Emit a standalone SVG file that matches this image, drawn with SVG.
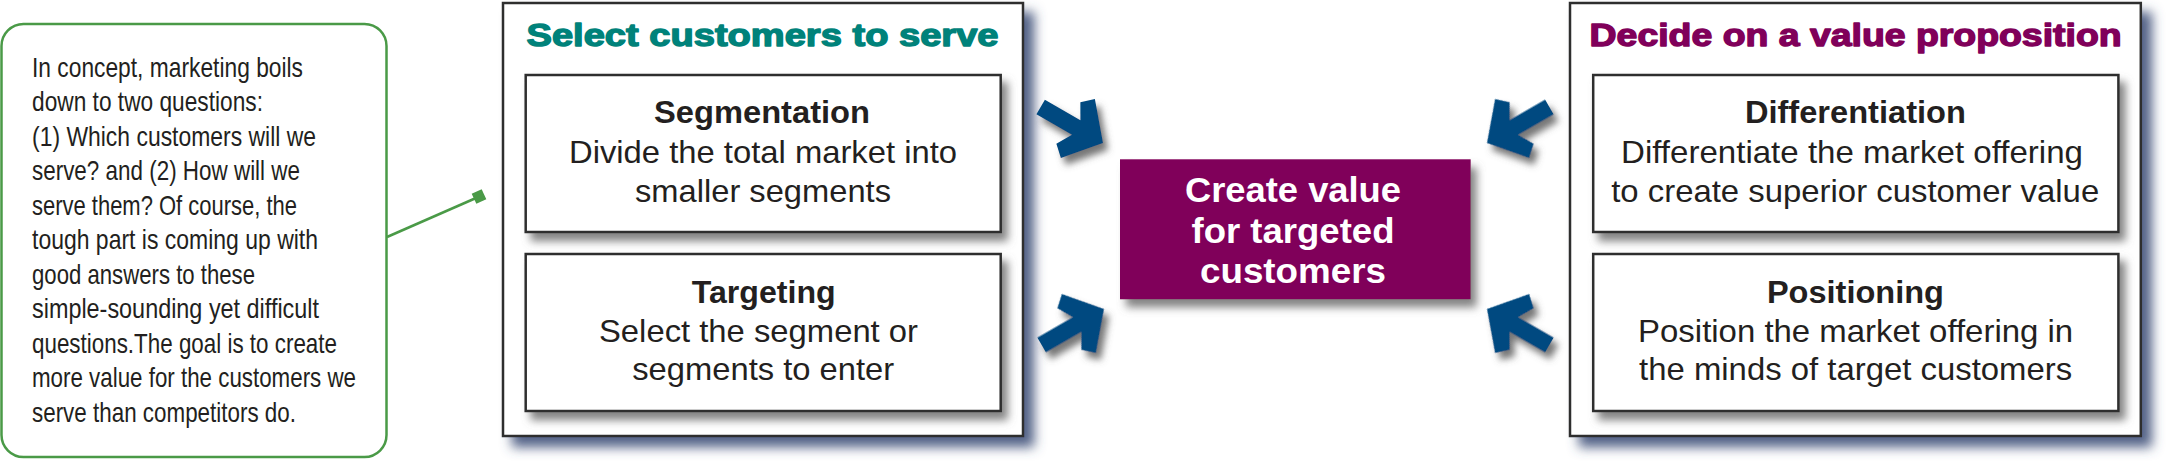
<svg xmlns="http://www.w3.org/2000/svg" xmlns:xlink="http://www.w3.org/1999/xlink" width="2167" height="461" viewBox="0 0 2167 461">
<style>
text{font-family:"Liberation Sans",Arial,sans-serif;}
.note{font-size:28px;fill:#231f20;}
.ttl{font-size:32px;font-weight:bold;text-anchor:middle;stroke-width:1.4;stroke-linejoin:round;}
.hd{font-size:31px;font-weight:bold;fill:#231f20;text-anchor:middle;}
.bd{font-size:32px;fill:#231f20;text-anchor:middle;}
.ctr{font-size:35px;font-weight:bold;fill:#ffffff;text-anchor:middle;}
.panel{fill:#ffffff;stroke:#2e2e2e;stroke-width:2.5;}
.box{fill:#ffffff;stroke:#2e2e2e;stroke-width:2.5;}
.arrow{fill:#004a80;}
</style>
<defs>
<filter id="panelShadow" x="-10%" y="-10%" width="125%" height="125%">
<feGaussianBlur in="SourceAlpha" stdDeviation="6"/>
<feOffset dx="10" dy="10" result="b"/>
<feFlood flood-color="#3f5079" flood-opacity="0.9"/>
<feComposite in2="b" operator="in"/>
<feMerge><feMergeNode/><feMergeNode in="SourceGraphic"/></feMerge>
</filter>
<filter id="boxShadow" x="-10%" y="-10%" width="125%" height="135%">
<feGaussianBlur in="SourceAlpha" stdDeviation="4.5"/>
<feOffset dx="6" dy="8" result="b"/>
<feFlood flood-color="#6e6e6e" flood-opacity="0.85"/>
<feComposite in2="b" operator="in"/>
<feMerge><feMergeNode/><feMergeNode in="SourceGraphic"/></feMerge>
</filter>
<filter id="arrowShadow" x="-40%" y="-40%" width="180%" height="180%">
<feGaussianBlur in="SourceAlpha" stdDeviation="3.5"/>
<feOffset dx="5" dy="7" result="b"/>
<feFlood flood-color="#555555" flood-opacity="0.8"/>
<feComposite in2="b" operator="in"/>
<feMerge><feMergeNode/><feMergeNode in="SourceGraphic"/></feMerge>
</filter>
<path id="arr" d="M0,0 L-29,-34 L-40,-24 L-31,-8.5 L-72,-8.5 L-72,8.5 L-31,8.5 L-40,24 L-29,34 Z"/>
</defs>

<g id="callout">
<rect x="1.5" y="24" width="385" height="433" rx="22" ry="22" fill="#ffffff" stroke="#4a9a47" stroke-width="2.5"/>
<text class="note" x="32" y="76.7" textLength="271" lengthAdjust="spacingAndGlyphs">In concept, marketing boils</text>
<text class="note" x="32" y="111.2" textLength="231" lengthAdjust="spacingAndGlyphs">down to two questions:</text>
<text class="note" x="32" y="145.7" textLength="284" lengthAdjust="spacingAndGlyphs">(1) Which customers will we</text>
<text class="note" x="32" y="180.2" textLength="268" lengthAdjust="spacingAndGlyphs">serve? and (2) How will we</text>
<text class="note" x="32" y="214.7" textLength="265" lengthAdjust="spacingAndGlyphs">serve them? Of course, the</text>
<text class="note" x="32" y="249.2" textLength="286" lengthAdjust="spacingAndGlyphs">tough part is coming up with</text>
<text class="note" x="32" y="283.7" textLength="223" lengthAdjust="spacingAndGlyphs">good answers to these</text>
<text class="note" x="32" y="318.2" textLength="287" lengthAdjust="spacingAndGlyphs">simple-sounding yet difficult</text>
<text class="note" x="32" y="352.7" textLength="305" lengthAdjust="spacingAndGlyphs">questions.The goal is to create</text>
<text class="note" x="32" y="387.2" textLength="324" lengthAdjust="spacingAndGlyphs">more value for the customers we</text>
<text class="note" x="32" y="421.7" textLength="264" lengthAdjust="spacingAndGlyphs">serve than competitors do.</text>
</g>

<g id="panel-select">
<rect class="panel" x="503" y="3" width="520" height="433" filter="url(#panelShadow)"/>
<text class="ttl" x="762.5" y="46" fill="#00827a" stroke="#00827a" textLength="472" lengthAdjust="spacingAndGlyphs">Select customers to serve</text>
</g>
<g id="node-segmentation">
<rect class="box" x="525.7" y="75" width="475" height="157" filter="url(#boxShadow)"/>
<text class="hd" x="762" y="123.3" textLength="216" lengthAdjust="spacingAndGlyphs">Segmentation</text>
<text class="bd" x="763" y="162.7" textLength="388" lengthAdjust="spacingAndGlyphs">Divide the total market into</text>
<text class="bd" x="763" y="201.7" textLength="256" lengthAdjust="spacingAndGlyphs">smaller segments</text>
</g>
<g id="node-targeting">
<rect class="box" x="525.7" y="254" width="475" height="157" filter="url(#boxShadow)"/>
<text class="hd" x="763.7" y="302.7" textLength="144" lengthAdjust="spacingAndGlyphs">Targeting</text>
<text class="bd" x="758.5" y="341.7" textLength="319" lengthAdjust="spacingAndGlyphs">Select the segment or</text>
<text class="bd" x="763.2" y="380" textLength="262" lengthAdjust="spacingAndGlyphs">segments to enter</text>
</g>

<g id="node-center">
<rect x="1120" y="159.3" width="350.7" height="140" fill="#80005a" filter="url(#boxShadow)"/>
<text class="ctr" x="1293" y="201.7" textLength="216" lengthAdjust="spacingAndGlyphs">Create value</text>
<text class="ctr" x="1293" y="243.3" textLength="203" lengthAdjust="spacingAndGlyphs">for targeted</text>
<text class="ctr" x="1293" y="283.3" textLength="186" lengthAdjust="spacingAndGlyphs">customers</text>
</g>

<g id="panel-decide">
<rect class="panel" x="1570" y="3" width="570.8" height="433" filter="url(#panelShadow)"/>
<text class="ttl" x="1855.6" y="46" fill="#80005a" stroke="#80005a" textLength="532" lengthAdjust="spacingAndGlyphs">Decide on a value proposition</text>
</g>
<g id="node-differentiation">
<rect class="box" x="1593.2" y="75" width="525.2" height="157" filter="url(#boxShadow)"/>
<text class="hd" x="1855.4" y="123.3" textLength="221" lengthAdjust="spacingAndGlyphs">Differentiation</text>
<text class="bd" x="1852" y="162.7" textLength="462" lengthAdjust="spacingAndGlyphs">Differentiate the market offering</text>
<text class="bd" x="1855.2" y="201.7" textLength="488" lengthAdjust="spacingAndGlyphs">to create superior customer value</text>
</g>
<g id="node-positioning">
<rect class="box" x="1593.2" y="254" width="525.2" height="157" filter="url(#boxShadow)"/>
<text class="hd" x="1855.4" y="302.7" textLength="177" lengthAdjust="spacingAndGlyphs">Positioning</text>
<text class="bd" x="1855.6" y="341.7" textLength="435" lengthAdjust="spacingAndGlyphs">Position the market offering in</text>
<text class="bd" x="1855.6" y="380" textLength="433" lengthAdjust="spacingAndGlyphs">the minds of target customers</text>
</g>

<g id="connectors">
<line x1="387" y1="237" x2="476" y2="198" stroke="#4a9a47" stroke-width="2.5"/>
<rect x="-5.5" y="-5.5" width="11" height="11" fill="#4a9a47" transform="translate(479,196.5) rotate(-25)"/>
<g class="arrow" filter="url(#arrowShadow)">
<use xlink:href="#arr" href="#arr" transform="translate(1103,143) rotate(30)"/>
<use xlink:href="#arr" href="#arr" transform="translate(1104,309) rotate(-30)"/>
<use xlink:href="#arr" href="#arr" transform="translate(1487,143) rotate(150)"/>
<use xlink:href="#arr" href="#arr" transform="translate(1487,309) rotate(-150)"/>
</g>
</g>
</svg>
